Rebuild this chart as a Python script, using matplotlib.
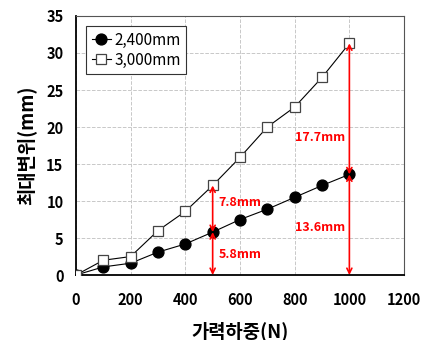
import matplotlib
matplotlib.use("Agg")
import matplotlib.pyplot as plt

plt.rcParams['font.family'] = ['Noto Sans CJK KR', 'DejaVu Sans']

# 데이터
load = [0, 100, 200, 300, 400, 500, 600, 700, 800, 900, 1000]
disp_2400 = [0, 1.1, 1.6, 3.1, 4.2, 5.8, 7.5, 8.9, 10.5, 12.1, 13.6]
disp_3000 = [0, 2.0, 2.5, 6.0, 8.6, 12.1, 15.9, 20.0, 22.7, 26.7, 31.3]
x_ticks = [0, 200, 400, 600, 800, 1000, 1200]
y_ticks = [0, 5, 10, 15, 20, 25, 30, 35]

fig = plt.figure(figsize=(4.34, 3.4), dpi=100)
ax = fig.add_axes([0.175, 0.191, 0.756, 0.762])

ax.plot(load, disp_2400, '-o', color='black', lw=0.8, ms=7.8,
        mfc='black', mec='black', label='2,400mm', zorder=3)
ax.plot(load, disp_3000, '-s', color='black', lw=0.8, ms=7.8,
        mfc='white', mec='#444444', mew=0.9, label='3,000mm', zorder=3)

# 빨간 화살표
red = '#ff0000'
arrows = [(500, 0, disp_2400[5]), (500, disp_2400[5], disp_3000[5]),
          (1000, 0, disp_2400[10]), (1000, disp_2400[10], disp_3000[10])]
for x, y0, y1 in arrows:
    ax.annotate('', xy=(x, y1), xytext=(x, y0),
                arrowprops=dict(arrowstyle='<->', color=red, lw=1.2,
                                shrinkA=0, shrinkB=0, mutation_scale=9),
                zorder=4)

ax.text(522, 2.8, '5.8mm', color=red, fontsize=9, fontweight='bold', va='center')
ax.text(522, 9.8, '7.8mm', color=red, fontsize=9, fontweight='bold', va='center')
ax.text(985, 6.4, '13.6mm', color=red, fontsize=9, fontweight='bold', va='center', ha='right')
ax.text(985, 18.6, '17.7mm', color=red, fontsize=9, fontweight='bold', va='center', ha='right')

ax.set_xlim(0, 1200)
ax.set_ylim(0, 35)
ax.set_xticks(x_ticks)
ax.set_yticks(y_ticks)
for lbl in ax.get_xticklabels() + ax.get_yticklabels():
    lbl.set_fontweight('bold')
    lbl.set_fontsize(10.5)
ax.tick_params(axis='x', length=0, pad=12)
ax.tick_params(axis='y', length=0, pad=9)

ax.grid(True, color='#c8c8c8', linestyle='--', linewidth=0.7)
ax.set_axisbelow(True)
for s in ['top', 'right']:
    ax.spines[s].set_color('#555555')
    ax.spines[s].set_linewidth(0.8)
for s in ['left', 'bottom']:
    ax.spines[s].set_color('black')
    ax.spines[s].set_linewidth(1.3)

ax.set_xlabel('가력하중(N)', fontsize=13.5, fontweight='bold', labelpad=10)
ax.set_ylabel('최대변위(mm)', fontsize=13.5, fontweight='bold', labelpad=7)

leg = ax.legend(loc='upper left', fontsize=11, handlelength=1.3, handletextpad=0.2,
                borderpad=0.35, labelspacing=0.2, fancybox=False, framealpha=1,
                bbox_to_anchor=(0.008, 0.99))
leg.get_frame().set_edgecolor('#333333')
leg.get_frame().set_linewidth(0.8)

fig.savefig('out.png', dpi=100)
